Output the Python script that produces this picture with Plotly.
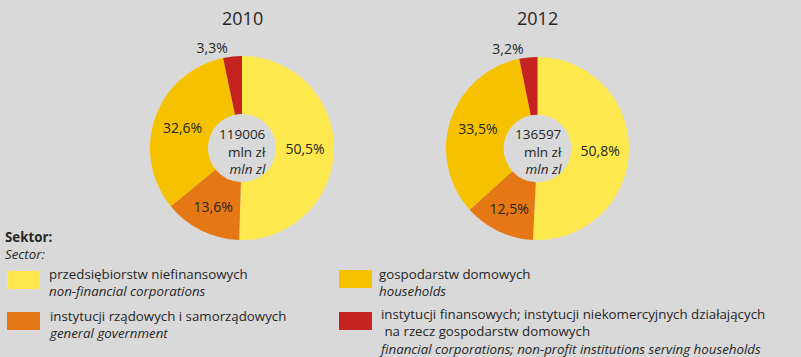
import plotly.graph_objects as go

# Data
years = ["2010", "2012"]
sectors_pl = [
    "przedsiębiorstw niefinansowych",
    "instytucji rządowych i samorządowych",
    "gospodarstw domowych",
    "instytucji finansowych; instytucji niekomercyjnych działających<br>&nbsp;na rzecz gospodarstw domowych",
]
sectors_en = [
    "non-financial corporations",
    "general government",
    "households",
    "financial corporations; non-profit institutions serving households",
]
shares_2010 = [50.5, 13.6, 32.6, 3.3]
shares_2012 = [50.8, 12.5, 33.5, 3.2]
totals = [119006, 136597]

colors = ["#FDE84E", "#E57814", "#F6C200", "#C4231F"]
BG = "#D9D9D9"
TXT = "#262626"
FONT = "Open Sans"
W, H = 801, 357

fig = go.Figure()

domains = [
    dict(x=[150 / W, 334 / W], y=[1 - 240 / H, 1 - 56 / H]),
    dict(x=[446 / W, 629 / W], y=[1 - 240 / H, 1 - 57 / H]),
]
for vals, dom in zip([shares_2010, shares_2012], domains):
    fig.add_trace(go.Pie(
        values=vals,
        labels=[s.replace("<br>&nbsp;", " ") for s in sectors_pl],
        sort=False,
        direction="clockwise",
        rotation=0,
        hole=0.37,
        domain=dom,
        marker=dict(colors=colors, line=dict(width=0)),
        texttemplate="%{value:.1f}%",
        textposition=["inside", "inside", "inside", "outside"],
        insidetextorientation="horizontal",
        textfont=dict(family=FONT, size=14, color=TXT),
        showlegend=False,
        hoverinfo="label+value",
    ))

ann = []
# year titles and centre totals
for i, (yr, tot) in enumerate(zip(years, totals)):
    cx = (domains[i]["x"][0] + domains[i]["x"][1]) / 2
    ann.append(dict(x=cx, y=1 - 18 / H, xref="paper", yref="paper", text=yr,
                    showarrow=False, xanchor="center", yanchor="middle",
                    font=dict(family=FONT, size=18, color=TXT)))
    ann.append(dict(x=cx + 26 / W, y=1 - 151 / H, xref="paper", yref="paper",
                    text=f"{tot}<br>mln zł<br><i>mln zl</i>", align="right",
                    showarrow=False, xanchor="right", yanchor="middle",
                    font=dict(family=FONT, size=13.5, color=TXT)))

def txt(x, y_mid, s, size=13.3):
    ann.append(dict(x=x / W, y=1 - y_mid / H, xref="paper", yref="paper", text=s,
                    showarrow=False, xanchor="left", yanchor="middle", align="left",
                    borderpad=0,
                    font=dict(family=FONT, size=size, color=TXT)))

txt(4, 245, "<b>Sektor:</b><br><i>Sector:</i>")

shapes = []
# legend: (rect x, rect y top, text x, text block middle)
legend_pos = [(7, 271, 48, 282), (7, 312, 48, 324), (339, 270, 378, 282), (339, 312, 378, 331)]
for (rx, ry, tx, ty), c, pl, en in zip(legend_pos, colors, sectors_pl, sectors_en):
    shapes.append(dict(type="rect", xref="paper", yref="paper",
                       x0=rx / W, x1=(rx + 33) / W, y0=1 - ry / H, y1=1 - (ry + 18) / H,
                       fillcolor=c, line=dict(width=0)))
    txt(tx, ty, f"{pl}<br><i>{en}</i>")

fig.update_layout(
    width=W, height=H,
    margin=dict(l=0, r=0, t=0, b=0),
    paper_bgcolor=BG, plot_bgcolor=BG,
    separators=", ",
    annotations=ann, shapes=shapes,
    font=dict(family=FONT, color=TXT),
)

fig.write_html("out.html")
